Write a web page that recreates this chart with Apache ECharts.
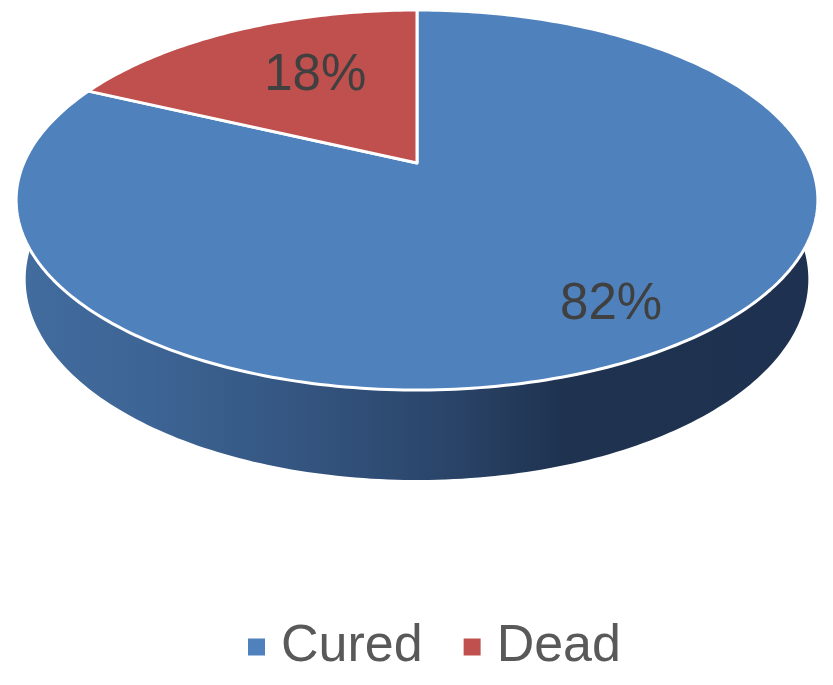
<!DOCTYPE html>
<html>
<head>
<meta charset="utf-8">
<script src="https://cdn.jsdelivr.net/npm/echarts@6/dist/echarts.min.js"></script>
<style>
html,body{margin:0;padding:0;background:#fff;}
#chart{width:833px;height:685px;}
</style>
</head>
<body>
<div id="chart"></div>
<script>
// ---- data ----
const categories = ['Cured', 'Dead'];
const values = [82, 18];
const sliceColors = ['#4F81BD', '#C0504D'];

// ---- 3D projection (perspective view of a tilted disc) ----
const CX = 417, CY = 163, F = 1787.7, D = 4.5465;
const SA = 0.4649, CA = 0.8854, H = 0.2295;
function proj(thetaDeg, r, Y) {
  const t = thetaDeg * Math.PI / 180;
  const X = r * Math.sin(t), Z = r * Math.cos(t);
  const yc = Y * CA + Z * SA;
  const zc = D + Z * CA - Y * SA;
  return [CX + F * X / zc, CY - F * yc / zc];
}
function arc(a0, a1, Y) {
  const pts = [];
  const n = Math.max(2, Math.ceil(Math.abs(a1 - a0)));
  for (let i = 0; i <= n; i++) pts.push(proj(a0 + (a1 - a0) * i / n, 1, Y));
  return pts;
}

const total = values.reduce((a, b) => a + b, 0);
let acc = 0;
const spans = values.map(v => {
  const s = acc / total * 360; acc += v;
  return [s, acc / total * 360, v];
});

const wallGradient = new echarts.graphic.LinearGradient(0, 0, 1, 0, [
  {offset: 0, color: '#436C9F'},
  {offset: 0.17, color: '#3C6494'},
  {offset: 0.355, color: '#345580'},
  {offset: 0.54, color: '#2A4469'},
  {offset: 0.68, color: '#1F3350'},
  {offset: 1, color: '#1E3150'}
]);

function renderSlice(params, api) {
  const a0 = api.value(0), a1 = api.value(1), v = api.value(2);
  const color = api.visual('color');
  const top = [proj(0, 0, 0)].concat(arc(a0, a1, 0));
  const wall = arc(a0, a1, 0).concat(arc(a1, a0, -H));
  const share = v / total;
  const mid = (a0 + a1) / 2 + (share < 0.3 ? 4 : 0);
  const lr = share < 0.3 ? 0.6 : 0.8;
  const lp = proj(mid, lr, 0);
  return {
    type: 'group',
    children: [
      {type: 'polygon', z2: 0, shape: {points: wall},
       style: {fill: wallGradient, stroke: null}},
      {type: 'polygon', z2: 10, shape: {points: top},
       style: {fill: color, stroke: '#ffffff', lineWidth: 3, lineJoin: 'round'}},
      {type: 'text', z2: 20, x: lp[0], y: lp[1],
       style: {text: Math.round(share * 100) + '%', fill: '#404040',
               font: '51px "Liberation Sans", Arial, sans-serif',
               align: 'center', verticalAlign: 'middle'}}
    ]
  };
}

const series = categories.map((name, i) => ({
  type: 'custom',
  name: name,
  coordinateSystem: 'none',
  itemStyle: {color: sliceColors[i]},
  renderItem: renderSlice,
  data: [spans[i]],
  animation: false,
  silent: true
}));

const chart = echarts.init(document.getElementById('chart'), null, {renderer: 'canvas'});
chart.setOption({
  backgroundColor: '#ffffff',
  animation: false,
  legend: {
    data: categories,
    left: 243,
    top: 616,
    icon: 'rect',
    itemWidth: 17,
    itemHeight: 17,
    itemGap: 41,
    selectedMode: false,
    textStyle: {
      fontFamily: '"Liberation Sans", Arial, sans-serif',
      fontSize: 52,
      color: '#595959',
      padding: [0, 0, 0, 11]
    }
  },
  series: series
});
</script>
</body>
</html>
